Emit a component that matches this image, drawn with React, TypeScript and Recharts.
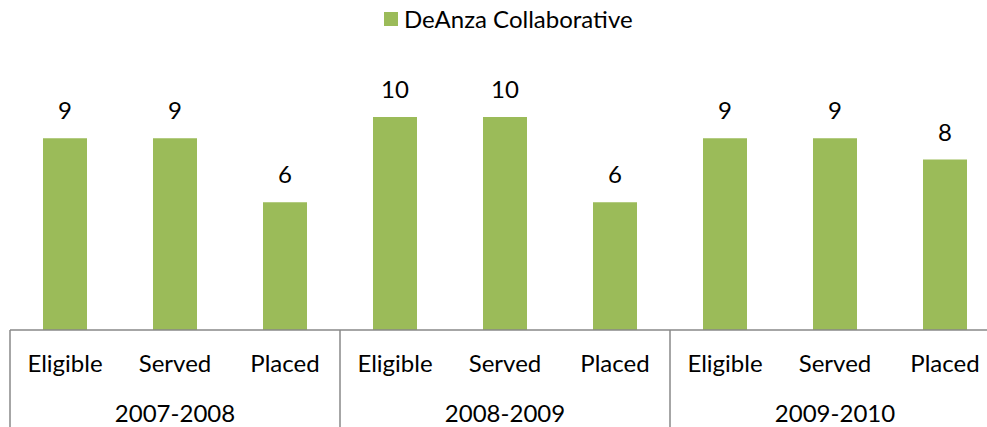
import { BarChart, Bar, XAxis, YAxis, LabelList } from 'recharts'

const years = ['2007-2008', '2008-2009', '2009-2010']
const metrics = ['Eligible', 'Served', 'Placed']
const values = [9, 9, 6, 10, 10, 6, 9, 9, 8]

const data = values.map((v, i) => ({
  metric: metrics[i % 3],
  year: years[Math.floor(i / 3)],
  value: v,
}))

const FONT = 'Lato, "Open Sans", sans-serif'
const GREEN = '#9BBB59'
const LINE = '#898989'
const CHART_W = 1000
const CHART_H = 427
const LEFT = 10
const SLOT = (CHART_W - LEFT) / data.length

function GroupTick({ x, y, payload }: { x?: number; y?: number; payload?: { value: string; index: number } }) {
  const i = payload?.index ?? 0
  const cx = x ?? 0
  const top = y ?? 0
  const row = data[i]
  return (
    <g>
      {i % 3 === 0 && <line x1={cx - SLOT / 2} x2={cx - SLOT / 2} y1={top} y2={CHART_H} stroke={LINE} strokeWidth={1.5} />}
      {i === data.length - 1 && <line x1={cx + SLOT / 2} x2={cx + SLOT / 2} y1={top} y2={CHART_H} stroke={LINE} strokeWidth={1.5} />}
      <text x={cx} y={top + 42} textAnchor="middle" fill="#000" fontSize={24} fontFamily={FONT}>{row.metric}</text>
      {i % 3 === 1 && (
        <text x={cx} y={top + 92} textAnchor="middle" fill="#000" fontSize={24} fontFamily={FONT}>{row.year}</text>
      )}
    </g>
  )
}

export default function App() {
  return (
    <div style={{ position: 'absolute', left: 0, top: 0, width: 987, height: CHART_H, overflow: 'hidden', background: '#fff' }}>
      <div style={{ position: 'absolute', left: 384, top: 5, display: 'flex', alignItems: 'center', fontFamily: FONT, fontSize: 24, color: '#000', whiteSpace: 'nowrap', lineHeight: '28px' }}>
        <span style={{ display: 'inline-block', width: 14, height: 14, background: GREEN, marginRight: 6 }} />
        DeAnza Collaborative
      </div>
      <BarChart width={CHART_W} height={CHART_H} data={data} margin={{ top: 117, right: 0, bottom: 0, left: LEFT }} barCategoryGap="30%">
        <YAxis hide domain={[0, 10]} />
        <XAxis
          dataKey="metric"
          height={97}
          interval={0}
          tickSize={0}
          tickMargin={0}
          tickLine={false}
          axisLine={{ stroke: LINE, strokeWidth: 1.5 }}
          tick={<GroupTick />}
        />
        <Bar dataKey="value" fill={GREEN} isAnimationActive={false} name="DeAnza Collaborative">
          <LabelList dataKey="value" position="top" offset={19} fill="#000" fontSize={24} fontFamily={FONT} />
        </Bar>
      </BarChart>
    </div>
  )
}
